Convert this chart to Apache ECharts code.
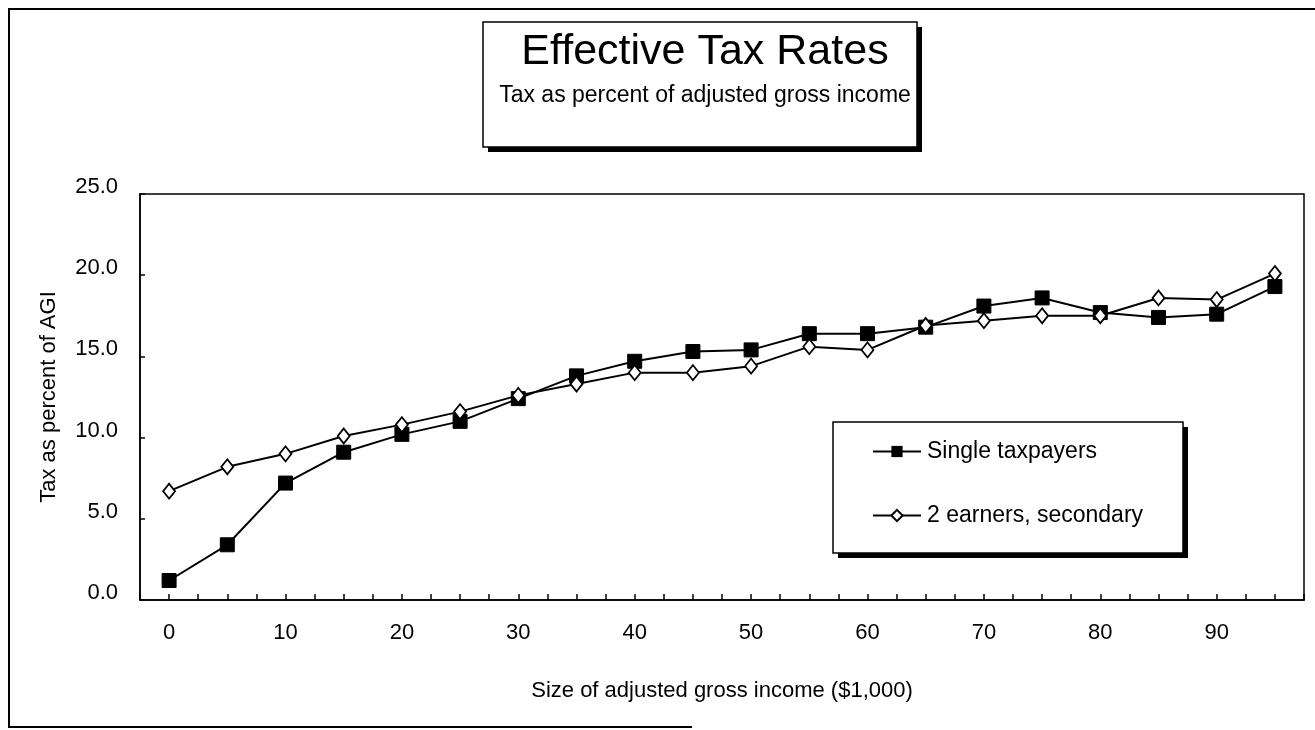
<!DOCTYPE html>
<html>
<head>
<meta charset="utf-8">
<script src="https://cdn.jsdelivr.net/npm/echarts@6/dist/echarts.min.js"></script>
<style>
html,body{margin:0;padding:0;background:#fff;}
#chart{width:1315px;height:730px;}
</style>
</head>
<body>
<div id="chart"></div>
<script>
var incomes = [0,5,10,15,20,25,30,35,40,45,50,55,60,65,70,75,80,85,90,95];
var singleTaxpayers = [1.2,3.4,7.2,9.1,10.2,11.0,12.4,13.8,14.7,15.3,15.4,16.4,16.4,16.8,18.1,18.6,17.7,17.4,17.6,19.3];
var twoEarnersSecondary = [6.7,8.2,9.0,10.1,10.8,11.6,12.6,13.3,14.0,14.0,14.4,15.6,15.4,16.9,17.2,17.5,17.5,18.6,18.5,20.1];
var yTicks = [0,5,10,15,20,25];
var xLabelValues = [0,10,20,30,40,50,60,70,80,90];

var FONT = "'Liberation Sans', Arial, sans-serif";
function pairs(ys){ return incomes.map(function(x,i){ return [x, ys[i]]; }); }

var chart = echarts.init(document.getElementById('chart'));
chart.setOption({
  backgroundColor: '#fff',
  animation: false,
  textStyle: { fontFamily: FONT, color: '#000' },
  title: {
    text: 'Effective Tax Rates',
    subtext: 'Tax as percent of adjusted gross income',
    left: 700,
    textAlign: 'center',
    top: 26,
    itemGap: 10,
    textStyle: { fontFamily: FONT, fontSize: 43, fontWeight: 'normal', color: '#000' },
    subtextStyle: { fontFamily: FONT, fontSize: 23, color: '#000' }
  },
  graphic: [
    /* outer frame: left, top, bottom (partial) */
    { type: 'polyline', z: -10, shape: { points: [[692, 727], [9, 727], [9, 9], [1315, 9]] },
      style: { fill: 'none', stroke: '#000', lineWidth: 2 } },
    /* title box shadow + box */
    { type: 'rect', z: -6, shape: { x: 488, y: 27, width: 434, height: 125 },
      style: { fill: '#000' } },
    { type: 'rect', z: -5, shape: { x: 483, y: 22, width: 434, height: 125 },
      style: { fill: '#fff', stroke: '#000', lineWidth: 1.5 } },
    /* legend box shadow + box */
    { type: 'rect', z: -6, shape: { x: 838, y: 427, width: 350, height: 131 },
      style: { fill: '#000' } },
    { type: 'rect', z: -5, shape: { x: 833, y: 422, width: 350, height: 131 },
      style: { fill: '#fff', stroke: '#000', lineWidth: 1.5 } }
  ],
  legend: {
    orient: 'vertical',
    left: 872,
    top: 440,
    padding: 0,
    itemGap: 41,
    itemWidth: 48,
    itemHeight: 14,
    textStyle: { fontFamily: FONT, fontSize: 23, color: '#000', padding: [0, 0, 0, 1] },
    data: ['Single taxpayers', '2 earners, secondary']
  },
  grid: {
    left: 140, top: 194, right: 11, bottom: 130,
    show: true, borderColor: '#000', borderWidth: 1.5, backgroundColor: 'transparent'
  },
  xAxis: {
    type: 'value',
    min: -2.5, max: 97.5, interval: 2.5,
    name: 'Size of adjusted gross income ($1,000)',
    nameLocation: 'middle',
    nameGap: 80,
    nameTextStyle: { fontFamily: FONT, fontSize: 22, color: '#000' },
    axisLine: { onZero: false, lineStyle: { color: '#000', width: 1.5 } },
    axisTick: { inside: true, length: 6, lineStyle: { color: '#000', width: 1.5 } },
    splitLine: { show: false },
    axisLabel: {
      fontFamily: FONT, fontSize: 22, color: '#000', margin: 22,
      showMinLabel: true, showMaxLabel: true,
      formatter: function(v){
        var r = Math.round(v*10)/10;
        return xLabelValues.indexOf(r) >= 0 ? String(r) : '';
      }
    }
  },
  yAxis: {
    type: 'value',
    min: yTicks[0], max: yTicks[yTicks.length-1], interval: 5,
    name: 'Tax as percent of AGI',
    nameLocation: 'middle',
    nameGap: 80,
    nameRotate: 90,
    nameTextStyle: { fontFamily: FONT, fontSize: 22, color: '#000' },
    axisLine: { show: true, onZero: false, lineStyle: { color: '#000', width: 1.5 } },
    axisTick: { show: true, inside: true, length: 5, lineStyle: { color: '#000', width: 1.5 } },
    splitLine: { show: false },
    axisLabel: {
      fontFamily: FONT, fontSize: 22, color: '#000', margin: 22,
      verticalAlign: 'bottom', lineHeight: 14,
      formatter: function(v){ return v.toFixed(1); }
    }
  },
  series: [
    {
      name: 'Single taxpayers',
      type: 'line',
      data: pairs(singleTaxpayers),
      symbol: 'rect',
      symbolSize: 14,
      itemStyle: { color: '#000', borderColor: '#000' },
      lineStyle: { color: '#000', width: 2 },
      z: 3
    },
    {
      name: '2 earners, secondary',
      type: 'line',
      data: pairs(twoEarnersSecondary),
      symbol: 'diamond',
      symbolSize: [12, 15],
      itemStyle: { color: '#fff', borderColor: '#000', borderWidth: 1.8 },
      lineStyle: { color: '#000', width: 2 },
      z: 4
    }
  ]
});
</script>
</body>
</html>
